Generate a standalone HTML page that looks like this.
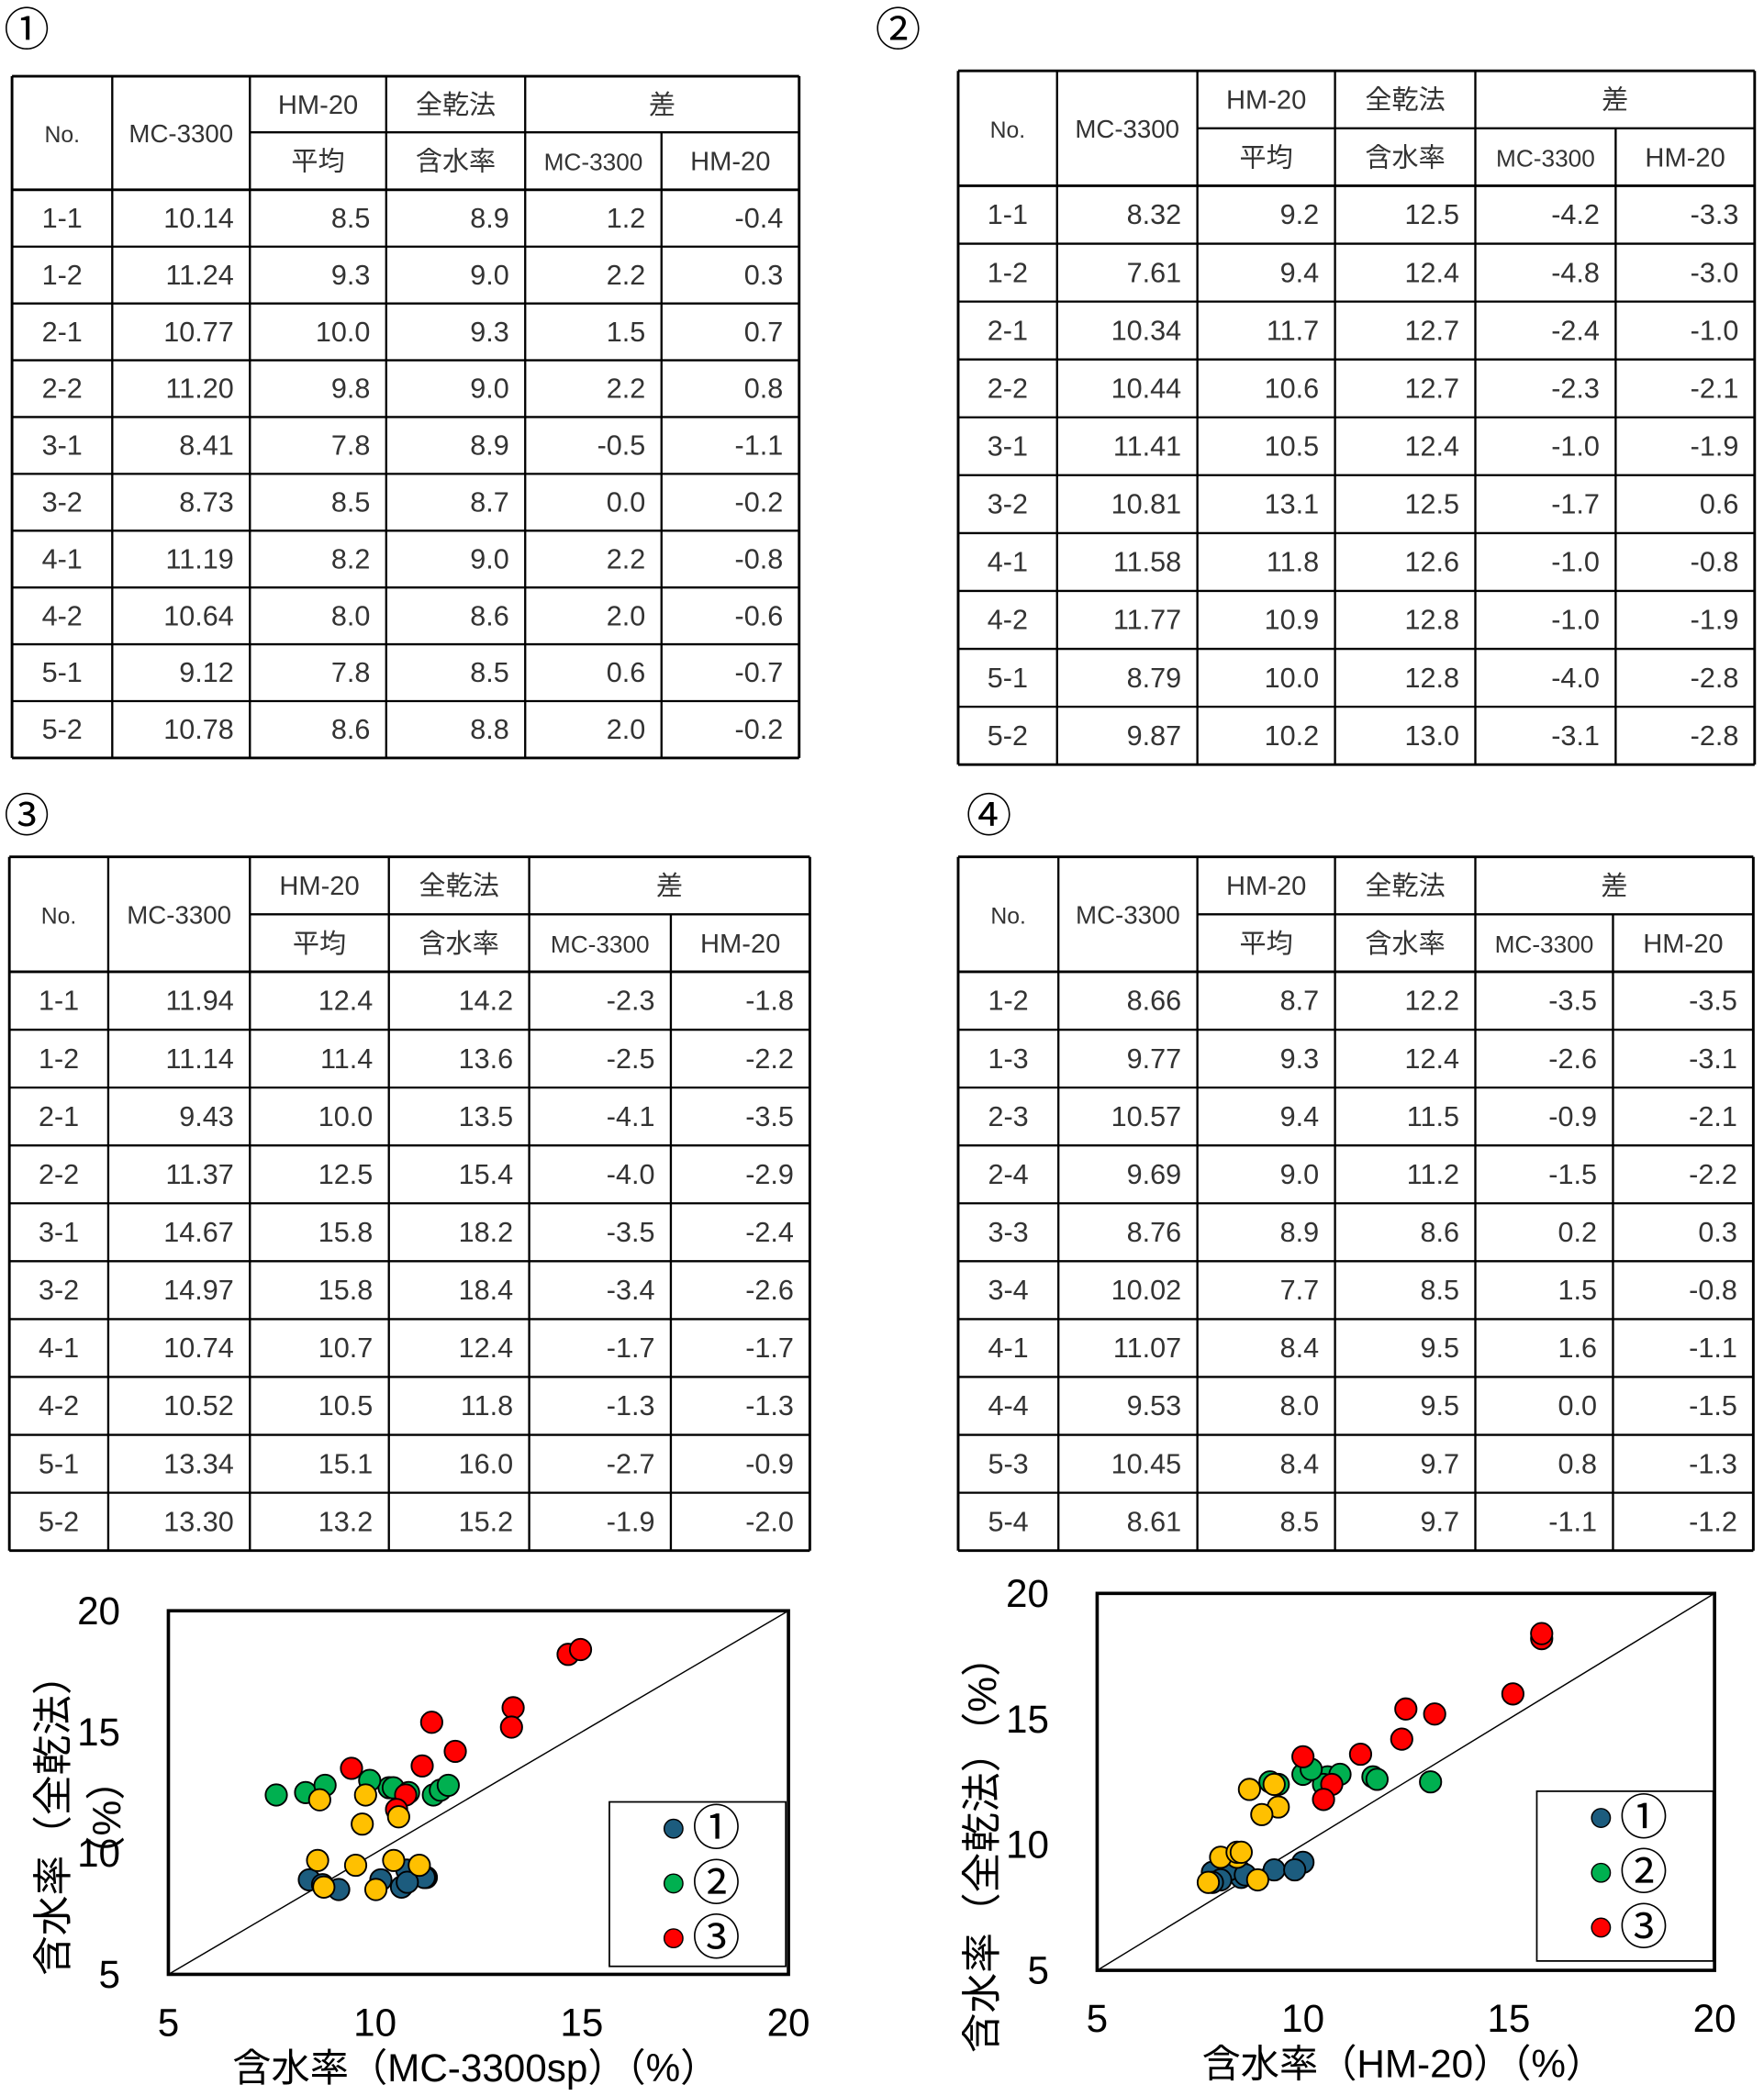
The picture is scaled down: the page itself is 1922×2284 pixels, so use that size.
<!DOCTYPE html>
<html><head><meta charset="utf-8"><style>
html,body{margin:0;padding:0;background:#fff;}
svg{display:block;}
text{font-family:"Liberation Sans","Noto Sans CJK JP",sans-serif;}
</style></head><body>
<svg id="root" width="1922" height="2284" viewBox="0 0 1320 1568" preserveAspectRatio="none" xmlns="http://www.w3.org/2000/svg"></svg>
<script>
// ---- Table data ----
const t1Rows = [["1-1","10.14","8.5","8.9","1.2","-0.4"],["1-2","11.24","9.3","9.0","2.2","0.3"],["2-1","10.77","10.0","9.3","1.5","0.7"],["2-2","11.20","9.8","9.0","2.2","0.8"],["3-1","8.41","7.8","8.9","-0.5","-1.1"],["3-2","8.73","8.5","8.7","0.0","-0.2"],["4-1","11.19","8.2","9.0","2.2","-0.8"],["4-2","10.64","8.0","8.6","2.0","-0.6"],["5-1","9.12","7.8","8.5","0.6","-0.7"],["5-2","10.78","8.6","8.8","2.0","-0.2"]];
const t2Rows = [["1-1","8.32","9.2","12.5","-4.2","-3.3"],["1-2","7.61","9.4","12.4","-4.8","-3.0"],["2-1","10.34","11.7","12.7","-2.4","-1.0"],["2-2","10.44","10.6","12.7","-2.3","-2.1"],["3-1","11.41","10.5","12.4","-1.0","-1.9"],["3-2","10.81","13.1","12.5","-1.7","0.6"],["4-1","11.58","11.8","12.6","-1.0","-0.8"],["4-2","11.77","10.9","12.8","-1.0","-1.9"],["5-1","8.79","10.0","12.8","-4.0","-2.8"],["5-2","9.87","10.2","13.0","-3.1","-2.8"]];
const t3Rows = [["1-1","11.94","12.4","14.2","-2.3","-1.8"],["1-2","11.14","11.4","13.6","-2.5","-2.2"],["2-1","9.43","10.0","13.5","-4.1","-3.5"],["2-2","11.37","12.5","15.4","-4.0","-2.9"],["3-1","14.67","15.8","18.2","-3.5","-2.4"],["3-2","14.97","15.8","18.4","-3.4","-2.6"],["4-1","10.74","10.7","12.4","-1.7","-1.7"],["4-2","10.52","10.5","11.8","-1.3","-1.3"],["5-1","13.34","15.1","16.0","-2.7","-0.9"],["5-2","13.30","13.2","15.2","-1.9","-2.0"]];
const t4Rows = [["1-2","8.66","8.7","12.2","-3.5","-3.5"],["1-3","9.77","9.3","12.4","-2.6","-3.1"],["2-3","10.57","9.4","11.5","-0.9","-2.1"],["2-4","9.69","9.0","11.2","-1.5","-2.2"],["3-3","8.76","8.9","8.6","0.2","0.3"],["3-4","10.02","7.7","8.5","1.5","-0.8"],["4-1","11.07","8.4","9.5","1.6","-1.1"],["4-4","9.53","8.0","9.5","0.0","-1.5"],["5-3","10.45","8.4","9.7","0.8","-1.3"],["5-4","8.61","8.5","9.7","-1.1","-1.2"]];
// ---- Chart series (x: MC-3300, hm: HM-20 mean, y: 全乾法) ----
const seriesNames = ["①","②","③"];
const s1MC = [10.14,11.24,10.77,11.20,8.41,8.73,11.19,10.64,9.12,10.78];
const s1HM = [8.5,9.3,10.0,9.8,7.8,8.5,8.2,8.0,7.8,8.6];
const s1Y  = [8.9,9.0,9.3,9.0,8.9,8.7,9.0,8.6,8.5,8.8];
const s2MC = [8.32,7.61,10.34,10.44,11.41,10.81,11.58,11.77,8.79,9.87];
const s2HM = [9.2,9.4,11.7,10.6,10.5,13.1,11.8,10.9,10.0,10.2];
const s2Y  = [12.5,12.4,12.7,12.7,12.4,12.5,12.6,12.8,12.8,13.0];
const s3MC = [11.94,11.14,9.43,11.37,14.67,14.97,10.74,10.52,13.34,13.30];
const s3HM = [12.4,11.4,10.0,12.5,15.8,15.8,10.7,10.5,15.1,13.2];
const s3Y  = [14.2,13.6,13.5,15.4,18.2,18.4,12.4,11.8,16.0,15.2];
const s4MC = [8.66,9.77,10.57,9.69,8.76,10.02,11.07,9.53,10.45,8.61];
const s4HM = [8.7,9.3,9.4,9.0,8.9,7.7,8.4,8.0,8.4,8.5];
const s4Y  = [12.2,12.4,11.5,11.2,8.6,8.5,9.5,9.5,9.7,9.7];
const axisTicks = [5,10,15,20];

const NS="http://www.w3.org/2000/svg";
const root=document.getElementById('root');
function el(tag,attrs,parent){const e=document.createElementNS(NS,tag);for(const k in attrs)e.setAttribute(k,attrs[k]);(parent||root).appendChild(e);return e;}
function txt(s,x,y,size,anchor,parent,fill){const t=el('text',{x:x,y:y,'font-size':size,'text-anchor':anchor||'middle',fill:fill||'#000'},parent);t.textContent=s;return t;}

[["①",20,22,"label-1"],["②",672,22,"label-2"],["③",20,610,"label-3"],["④",740,610,"label-4"]].forEach(l=>{
  const t=txt(l[0],l[1],l[2]+12,34,'middle');
  
  
});

function makeTable(name,cols,top,mid,hdrBot,bot,rows){
  const g=el('g',{});
  
  
  const L=cols[0],R=cols[6];
  const rh=(bot-hdrBot)/rows.length;
  const c='#333';
  const hy1=(top+mid)/2+7, hy2=(mid+hdrBot)/2+7, hyC=(top+hdrBot)/2+7;
  txt("No.",(cols[0]+cols[1])/2,hyC,17,'middle',g,c);
  txt("MC-3300",(cols[1]+cols[2])/2,hyC,19,'middle',g,c);
  txt("HM-20",(cols[2]+cols[3])/2,hy1,20,'middle',g,c);
  txt("平均",(cols[2]+cols[3])/2,hy2,20,'middle',g,c);
  txt("全乾法",(cols[3]+cols[4])/2,hy1,20,'middle',g,c);
  txt("含水率",(cols[3]+cols[4])/2,hy2,20,'middle',g,c);
  txt("差",(cols[4]+cols[6])/2,hy1,20,'middle',g,c);
  txt("MC-3300",(cols[4]+cols[5])/2,hy2,18,'middle',g,c);
  txt("HM-20",(cols[5]+cols[6])/2,hy2,20,'middle',g,c);
  rows.forEach((r,i)=>{
    const y=hdrBot+rh*i+rh/2+7;
    const row=el('g',{},g);
    
    
    txt(r[0],(cols[0]+cols[1])/2,y,21,'middle',row,c);
    for(let j=1;j<6;j++) txt(r[j],cols[j+1]-12,y,21,'end',row,c);
  });
  const ln=(x1,y1,x2,y2,w)=>el('line',{x1,y1,x2,y2,stroke:'#000','stroke-width':w||1.6},g);
  ln(L,top,R,top,2);ln(L,bot,R,bot,2);ln(L,top,L,bot,2);ln(R,top,R,bot,2);
  ln(cols[2],mid,R,mid);ln(L,hdrBot,R,hdrBot,2);
  for(let j=1;j<6;j++){ if(j===5) ln(cols[5],mid,cols[5],bot); else ln(cols[j],top,cols[j],bot); }
  for(let i=1;i<rows.length;i++) ln(L,hdrBot+rh*i,R,hdrBot+rh*i);
}
makeTable('table-1',[9,84,187,289,393,495,598],57,99,142,567,t1Rows);
makeTable('table-2',[717,791,896,999,1104,1209,1313],53,96,139,572,t2Rows);
makeTable('table-3',[7,81,187,291,396,502,606],641,684,727,1160,t3Rows);
makeTable('table-4',[717,792,896,999,1104,1207,1312],641,684,727,1160,t4Rows);

const colors=["#1c5c7e","#00b050","#ff0000","#ffc000"];
function makeChart(name,box,xs,ys,xTitle,legend,yTitleLines){
  const [L,T,R,B]=box;
  const g=el('g',{});
  
  
  const sx=v=>L+(v-5)/15*(R-L), sy=v=>B-(v-5)/15*(B-T);
  el('line',{x1:sx(5),y1:sy(5),x2:sx(20),y2:sy(20),stroke:'#000','stroke-width':1},g);
  axisTicks.forEach(v=>{
    const a=txt(String(v),sx(v),B+46,29,'middle',g);
    
    
    const b=txt(String(v),L-36,sy(v)+10,29,'end',g);
    
    
  });
  [0,1,2,3].forEach(k=>{
    xs[k].forEach((xv,i)=>{
      const c=el('circle',{cx:sx(xv),cy:sy(ys[k][i]),r:8,fill:colors[k],stroke:'#000','stroke-width':1.3},g);
      
      
    });
  });
  el('rect',{x:L,y:T,width:R-L,height:B-T,fill:'none',stroke:'#000','stroke-width':2.5},g);
  const lg=el('g',{},g);
  
  
  const [lx,ly,lw,lh]=legend;
  el('rect',{x:lx,y:ly,width:lw,height:lh,fill:'#fff',stroke:'#000','stroke-width':1.2},lg);
  seriesNames.forEach((s,k)=>{
    const yy=ly+20+k*41;
    const m=el('circle',{cx:lx+48,cy:yy,r:7,fill:colors[k],stroke:'#000','stroke-width':1},lg);
    
    
    txt(s,lx+80,yy+12,36,'middle',lg);
  });
  const xt=txt(xTitle,(L+R)/2-2,B+80,29,'middle',g);
  
  
  yTitleLines.forEach(([s,x,y])=>{
    const t=txt(s,0,0,30,'middle',g);
    t.setAttribute('transform','translate('+x+','+y+') rotate(-90)');
    
    
  });
}
makeChart('chart-mc3300',[126,1205,590,1477],[s1MC,s2MC,s3MC,s4MC],[s1Y,s2Y,s3Y,s4Y],"含水率（MC-3300sp）（%）",[456,1348,132,123],[["含水率（全乾法）",50,1358],["（%）",90,1360]]);
makeChart('chart-hm20',[821,1192,1283,1474],[s1HM,s2HM,s3HM,s4HM],[s1Y,s2Y,s3Y,s4Y],"含水率（HM-20）（%）",[1150,1340,132,127],[["含水率（全乾法）（%）",745,1380]]);
</script>
</body></html>
